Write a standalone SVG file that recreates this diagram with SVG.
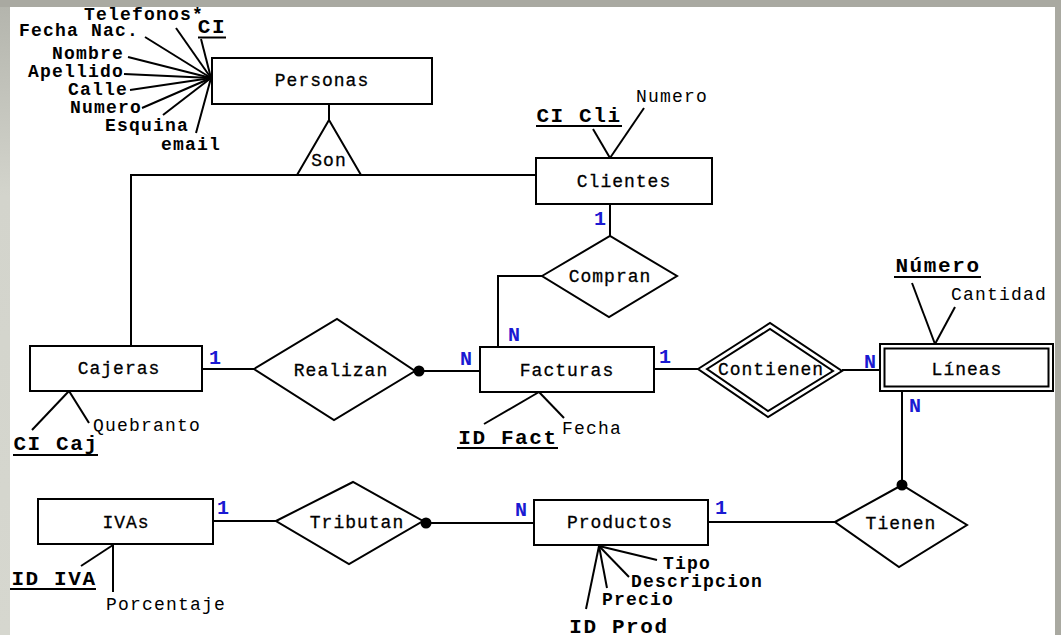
<svg xmlns="http://www.w3.org/2000/svg" width="1061" height="635" viewBox="0 0 1061 635">
<defs>
<linearGradient id="lg" x1="0" y1="0" x2="0" y2="1">
<stop offset="0" stop-color="#b4b5ad"/>
<stop offset="0.3" stop-color="#d3d4cc"/>
<stop offset="1" stop-color="#d6d7cf"/>
</linearGradient>
<style>
.bx{fill:#fff;stroke:#000;stroke-width:2}
.ln{stroke:#000;stroke-width:2;fill:none}
.ul{stroke:#000;stroke-width:2}
text{font-family:"Liberation Mono","Courier New",monospace;fill:#000;text-anchor:middle}
.nm{font-size:18px;letter-spacing:1.0px;stroke:#000;stroke-width:0.3px}
.at{font-size:18px;letter-spacing:1.2px;font-weight:bold}
.sa{font-size:18px;letter-spacing:1.2px}
.key{font-size:21px;letter-spacing:1.6px;font-weight:bold}
.card{font-size:20px;font-weight:bold;fill:#1a1ad2}
.dot{fill:#000}
</style>
</defs>
<rect width="1061" height="635" fill="#a9a9a1"/>
<rect x="0" y="7" width="10" height="628" fill="url(#lg)"/>
<rect x="10" y="7" width="1045" height="628" fill="#fff"/>

<g id="connectors">
<line class="ln" x1="176" y1="28" x2="211" y2="78"/>
<line class="ln" x1="201" y1="39" x2="211" y2="78"/>
<line class="ln" x1="145" y1="37" x2="211" y2="78"/>
<line class="ln" x1="128" y1="57" x2="211" y2="78"/>
<line class="ln" x1="124" y1="74" x2="211" y2="78"/>
<line class="ln" x1="130" y1="90" x2="211" y2="78"/>
<line class="ln" x1="142" y1="108" x2="211" y2="78"/>
<line class="ln" x1="163" y1="115" x2="211" y2="78"/>
<line class="ln" x1="196" y1="133" x2="211" y2="78"/>
<line class="ln" x1="329" y1="104" x2="329" y2="120"/>
<polyline class="ln" points="131,346 131,175 536,175"/>
<line class="ln" x1="593" y1="129" x2="610" y2="158"/>
<line class="ln" x1="644" y1="108" x2="610" y2="158"/>
<line class="ln" x1="610" y1="204" x2="610" y2="236"/>
<polyline class="ln" points="542,276 498,276 498,347"/>
<line class="ln" x1="202" y1="369" x2="254" y2="369"/>
<line class="ln" x1="415" y1="371" x2="480" y2="371"/>
<line class="ln" x1="69" y1="391" x2="32" y2="430"/>
<line class="ln" x1="69" y1="391" x2="89" y2="423"/>
<line class="ln" x1="539" y1="392" x2="484" y2="424"/>
<line class="ln" x1="539" y1="392" x2="564" y2="418"/>
<line class="ln" x1="654" y1="369" x2="698" y2="369"/>
<line class="ln" x1="842" y1="370" x2="880" y2="370"/>
<line class="ln" x1="912" y1="283" x2="935" y2="344"/>
<line class="ln" x1="955" y1="307" x2="935" y2="344"/>
<line class="ln" x1="902" y1="391" x2="902" y2="484"/>
<line class="ln" x1="708" y1="522" x2="835" y2="522"/>
<line class="ln" x1="213" y1="521" x2="276" y2="521"/>
<line class="ln" x1="426" y1="523" x2="534" y2="523"/>
<line class="ln" x1="113" y1="545" x2="81" y2="566"/>
<line class="ln" x1="113" y1="545" x2="113" y2="592"/>
<line class="ln" x1="599" y1="546" x2="657" y2="560"/>
<line class="ln" x1="599" y1="546" x2="629" y2="577"/>
<line class="ln" x1="599" y1="546" x2="607" y2="588"/>
<line class="ln" x1="599" y1="546" x2="586" y2="609"/>
</g>

<g id="personas"><rect class="bx" x="212" y="58" width="220" height="46"/><text class="nm" x="322" y="86">Personas</text></g>
<g id="son"><polygon class="bx" points="329,120 297,175 361,175"/><text class="nm" x="329" y="166">Son</text></g>
<g id="clientes"><rect class="bx" x="536" y="158" width="176" height="46"/><text class="nm" x="624" y="187">Clientes</text></g>
<g id="compran"><polygon class="bx" points="542,276 610,236 677,276 609,317"/><text class="nm" x="610" y="282">Compran</text></g>
<g id="cajeras"><rect class="bx" x="30" y="346" width="172" height="45"/><text class="nm" x="119" y="374">Cajeras</text></g>
<g id="realizan"><polygon class="bx" points="254,369 337,319 415,371 334,420"/><text class="nm" x="341" y="376">Realizan</text><circle class="dot" cx="419" cy="371" r="5.5"/></g>
<g id="facturas"><rect class="bx" x="480" y="347" width="174" height="45"/><text class="nm" x="567" y="376">Facturas</text></g>
<g id="contienen"><polygon class="bx" points="698,369 770,323 842,371 768,417"/><polygon class="ln" points="707,369 770,329 833,371 768,411"/><text class="nm" x="771" y="375">Contienen</text></g>
<g id="lineas"><rect class="bx" x="880" y="344" width="173" height="47"/><rect class="ln" x="884.5" y="348.5" width="164" height="38"/><text class="nm" x="967" y="375">Líneas</text></g>
<g id="ivas"><rect class="bx" x="38" y="499" width="175" height="45"/><text class="nm" x="126" y="528">IVAs</text></g>
<g id="tributan"><polygon class="bx" points="276,521 353,482 423,521 349,564"/><text class="nm" x="357" y="528">Tributan</text><circle class="dot" cx="426" cy="523" r="5.5"/></g>
<g id="productos"><rect class="bx" x="534" y="500" width="174" height="45"/><text class="nm" x="620" y="528">Productos</text></g>
<g id="tienen"><polygon class="bx" points="835,522 902,485 967,525 899,567"/><text class="nm" x="901" y="529">Tienen</text><circle class="dot" cx="902" cy="485" r="5.5"/></g>

<g id="attr-telefonos"><text class="at" x="144" y="20">Telefonos*</text></g>
<g id="attr-ci"><text class="key" x="212" y="33">CI</text><line class="ul" x1="198" y1="37.5" x2="226" y2="37.5"/></g>
<g id="attr-fechanac"><text class="at" x="79" y="36">Fecha Nac.</text></g>
<g id="attr-nombre"><text class="at" x="88" y="59">Nombre</text></g>
<g id="attr-apellido"><text class="at" x="76" y="77">Apellido</text></g>
<g id="attr-calle"><text class="at" x="98" y="95">Calle</text></g>
<g id="attr-numero"><text class="at" x="106" y="113">Numero</text></g>
<g id="attr-esquina"><text class="at" x="147" y="131">Esquina</text></g>
<g id="attr-email"><text class="at" x="191" y="150">email</text></g>
<g id="attr-cicli"><text class="key" x="579" y="122">CI Cli</text><line class="ul" x1="536" y1="126" x2="622" y2="126"/></g>
<g id="attr-numero-cli"><text class="sa" x="672" y="102">Numero</text></g>
<g id="attr-numero-lin"><text class="key" x="938" y="272">Número</text><line class="ul" x1="894" y1="277" x2="981" y2="277"/></g>
<g id="attr-cantidad"><text class="sa" x="999" y="300">Cantidad</text></g>
<g id="attr-cicaj"><text class="key" x="56" y="450">CI Caj</text><line class="ul" x1="13" y1="455" x2="98" y2="455"/></g>
<g id="attr-quebranto"><text class="sa" x="147" y="431">Quebranto</text></g>
<g id="attr-idfact"><text class="key" x="508" y="444">ID Fact</text><line class="ul" x1="457" y1="448" x2="558" y2="448"/></g>
<g id="attr-fecha"><text class="sa" x="592" y="434">Fecha</text></g>
<g id="attr-idiva"><text class="key" x="54" y="585">ID IVA</text><line class="ul" x1="10" y1="589" x2="96" y2="589"/></g>
<g id="attr-porcentaje"><text class="sa" x="166" y="610">Porcentaje</text></g>
<g id="attr-tipo"><text class="at" x="687" y="569">Tipo</text></g>
<g id="attr-descripcion"><text class="at" x="697" y="587">Descripcion</text></g>
<g id="attr-precio"><text class="at" x="638" y="605">Precio</text></g>
<g id="attr-idprod"><text class="key" x="619" y="633">ID Prod</text></g>

<g id="cardinalities">
<text class="card" x="600" y="225">1</text>
<text class="card" x="514" y="341">N</text>
<text class="card" x="466" y="365">N</text>
<text class="card" x="215" y="364">1</text>
<text class="card" x="665" y="363">1</text>
<text class="card" x="870" y="368">N</text>
<text class="card" x="915" y="412">N</text>
<text class="card" x="223" y="514">1</text>
<text class="card" x="521" y="516">N</text>
<text class="card" x="721" y="514">1</text>
</g>
</svg>
